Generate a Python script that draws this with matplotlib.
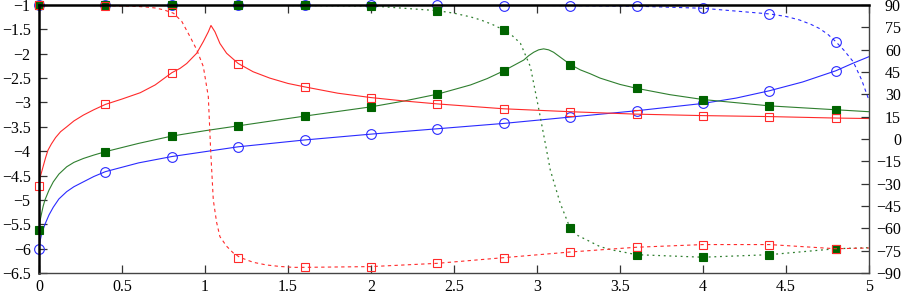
import matplotlib
matplotlib.use("Agg")
import matplotlib.pyplot as plt

plt.rcParams['font.family'] = ['Liberation Serif', 'DejaVu Serif']
plt.rcParams['font.size'] = 11.5

# ---- marker samples (x every 0.4) ----
mx = [0, 0.4, 0.8, 1.2, 1.6, 2.0, 2.4, 2.8, 3.2, 3.6, 4.0, 4.4, 4.8]
red_mag_m = [-4.72, -3.04, -2.39, -2.22, -2.68, -2.90, -3.03, -3.13, -3.19, -3.24, -3.27, -3.29, -3.32]
green_mag_m = [-5.62, -4.01, -3.69, -3.48, -3.28, -3.09, -2.83, -2.35, -2.23, -2.71, -2.94, -3.07, -3.15]
blue_mag_m = [-6.01, -4.42, -4.11, -3.91, -3.77, -3.65, -3.54, -3.43, -3.30, -3.17, -3.02, -2.76, -2.35]
red_ph_m = [90, 89.6, 85.0, -80.0, -86.2, -85.7, -83.5, -79.7, -75.9, -72.7, -70.9, -70.9, -73.7]
green_ph_m = [90, 90, 90, 90, 89.8, 89.4, 86.2, 73.2, -60.0, -77.7, -79.4, -77.7, -73.7]
blue_ph_m = [90, 90, 90, 90, 90, 90, 90, 89.6, 89.6, 89.2, 87.8, 84.0, 65.4]

# ---- curves ----
red_mag_x = [0, 0.008, 0.018, 0.026, 0.04, 0.054, 0.075, 0.1, 0.13, 0.167, 0.21, 0.267, 0.33,
             0.4, 0.5, 0.61, 0.7, 0.8, 0.85, 0.89, 0.95, 0.99, 1.02, 1.036, 1.06, 1.09, 1.13,
             1.2, 1.29, 1.39, 1.5, 1.6, 1.8, 2.0, 2.2, 2.4, 2.8, 3.2, 3.6, 4.0, 4.4, 4.8, 5.0]
red_mag_y = [-4.72, -4.52, -4.40, -4.30, -4.13, -3.98, -3.85, -3.72, -3.60, -3.50, -3.38, -3.26,
             -3.15, -3.04, -2.93, -2.80, -2.64, -2.39, -2.30, -2.20, -1.99, -1.75, -1.55, -1.42,
             -1.55, -1.79, -1.99, -2.20, -2.37, -2.50, -2.61, -2.68, -2.81, -2.90, -2.97, -3.03,
             -3.13, -3.19, -3.24, -3.27, -3.29, -3.32, -3.33]

green_mag_x = [0, 0.008, 0.016, 0.025, 0.036, 0.06, 0.086, 0.12, 0.167, 0.21, 0.267, 0.33, 0.4,
               0.6, 0.8, 1.0, 1.2, 1.6, 2.0, 2.2, 2.4, 2.6, 2.7, 2.8, 2.86, 2.92, 2.95, 2.98,
               3.01, 3.04, 3.07, 3.10, 3.16, 3.2, 3.26, 3.32, 3.38, 3.5, 3.6, 3.8, 4.0, 4.4,
               4.8, 5.0]
green_mag_y = [-5.62, -5.40, -5.27, -5.13, -5.00, -4.80, -4.63, -4.47, -4.32, -4.23, -4.15,
               -4.08, -4.01, -3.84, -3.69, -3.58, -3.48, -3.28, -3.09, -2.97, -2.83, -2.64,
               -2.51, -2.35, -2.24, -2.13, -2.04, -1.97, -1.92, -1.90, -1.92, -1.97, -2.12,
               -2.22, -2.33, -2.41, -2.50, -2.63, -2.71, -2.84, -2.94, -3.07, -3.15, -3.19]

blue_mag_x = [0, 0.008, 0.018, 0.036, 0.06, 0.086, 0.12, 0.167, 0.21, 0.267, 0.33, 0.4, 0.6,
              0.8, 1.2, 1.6, 2.0, 2.4, 2.8, 3.2, 3.6, 4.0, 4.2, 4.4, 4.6, 4.8, 4.9, 5.0]
blue_mag_y = [-6.01, -5.82, -5.67, -5.50, -5.31, -5.15, -4.98, -4.83, -4.73, -4.63, -4.52,
              -4.42, -4.24, -4.11, -3.91, -3.77, -3.65, -3.54, -3.43, -3.30, -3.17, -3.02,
              -2.91, -2.76, -2.58, -2.35, -2.20, -2.06]

red_ph_x = [0, 0.3, 0.57, 0.65, 0.7, 0.75, 0.81, 0.86, 0.91, 0.95, 0.99, 1.02, 1.034, 1.05,
            1.07, 1.09, 1.13, 1.17, 1.21, 1.29, 1.37, 1.45, 1.53, 1.6, 2.0, 2.4, 2.8, 3.2,
            3.6, 4.0, 4.4, 4.8, 5.0]
red_ph_y = [90, 89.7, 89.2, 88.6, 88.0, 86.8, 84.5, 79.0, 68.7, 60.0, 48.6, 28.4, -7.4, -41.0,
            -56.0, -65.6, -72.0, -76.5, -79.5, -82.8, -84.6, -85.6, -86.2, -86.2, -85.7,
            -83.5, -79.7, -75.9, -72.7, -70.9, -70.9, -73.7, -73.2]

green_ph_x = [0, 1.0, 2.0, 2.4, 2.5, 2.6, 2.66, 2.73, 2.8, 2.85, 2.90, 2.96, 3.0, 3.05, 3.08,
              3.14, 3.2, 3.24, 3.30, 3.38, 3.45, 3.5, 3.6, 4.0, 4.4, 4.8, 5.0]
green_ph_y = [90, 90, 89.4, 86.2, 84.5, 82.0, 80.0, 77.0, 73.2, 69.5, 64.3, 48.6, 26.2, -2.9,
              -20.8, -43.2, -60.0, -64.5, -67.8, -72.3, -74.5, -75.5, -77.7, -79.4, -77.7,
              -73.7, -73.0]

blue_ph_x = [0, 2.0, 2.4, 2.8, 3.2, 3.6, 4.0, 4.4, 4.5, 4.58, 4.65, 4.70, 4.75, 4.8, 4.85,
             4.905, 4.956, 5.0]
blue_ph_y = [90, 90, 90, 89.8, 89.6, 89.2, 87.8, 84.0, 82.3, 80.0, 77.0, 74.3, 70.5, 65.4,
             59.5, 51.9, 39.6, 26.0]

# ---- ticks ----
x_ticks = [0, 0.5, 1, 1.5, 2, 2.5, 3, 3.5, 4, 4.5, 5]
x_labels = ['0', '0.5', '1', '1.5', '2', '2.5', '3', '3.5', '4', '4.5', '5']
yl_ticks = [-1, -1.5, -2, -2.5, -3, -3.5, -4, -4.5, -5, -5.5, -6, -6.5]
yl_labels = ['\u22121', '\u22121.5', '\u22122', '\u22122.5', '\u22123', '\u22123.5', '\u22124',
             '\u22124.5', '\u22125', '\u22125.5', '\u22126', '\u22126.5']
yr_ticks = [90, 75, 60, 45, 30, 15, 0, -15, -30, -45, -60, -75, -90]
yr_labels = ['90', '75', '60', '45', '30', '15', '0', '\u221215', '\u221230', '\u221245',
             '\u221260', '\u221275', '\u221290']

RED = '#ff2a2a'
GREEN = '#006400'
GREEN_L = '#2f7f2f'
BLUE = '#2a2aff'

fig = plt.figure(figsize=(9.04, 2.96), dpi=100)
ax = fig.add_axes([39 / 904, 1 - 273 / 296, (869 - 39) / 904, (273 - 5) / 296])
ax2 = ax.twinx()

ms_sq = 6.0
ms_c = 7.0
mew = 0.8

# magnitudes (left axis)
ax.plot(blue_mag_x, blue_mag_y, color=BLUE, lw=0.8)
ax.plot(mx, blue_mag_m, ls='none', marker='o', ms=ms_c, mfc='none', mec=BLUE, mew=mew, clip_on=False)
ax.plot(green_mag_x, green_mag_y, color=GREEN_L, lw=0.8)
ax.plot(mx, green_mag_m, ls='none', marker='s', ms=ms_sq, mfc=GREEN, mec=GREEN, mew=mew, clip_on=False)
ax.plot(red_mag_x, red_mag_y, color=RED, lw=0.8)
ax.plot(mx, red_mag_m, ls='none', marker='s', ms=ms_sq, mfc='none', mec=RED, mew=mew, clip_on=False)

# phases (right axis)
ax2.plot(blue_ph_x, blue_ph_y, color=BLUE, lw=0.8, ls=(0, (3, 3)))
ax2.plot(mx, blue_ph_m, ls='none', marker='o', ms=ms_c, mfc='none', mec=BLUE, mew=mew, clip_on=False)
ax2.plot(green_ph_x, green_ph_y, color=GREEN_L, lw=0.9, ls=(0, (1.5, 3)))
ax2.plot(mx, green_ph_m, ls='none', marker='s', ms=ms_sq, mfc=GREEN, mec=GREEN, mew=mew, clip_on=False)
ax2.plot(red_ph_x, red_ph_y, color=RED, lw=0.8, ls=(0, (3, 3)))
ax2.plot(mx, red_ph_m, ls='none', marker='s', ms=ms_sq, mfc='none', mec=RED, mew=mew, clip_on=False)

ax.set_xlim(0, 5)
ax.set_ylim(-6.5, -1)
ax2.set_ylim(-90, 90)

ax.set_xticks(x_ticks)
ax.set_xticklabels(x_labels)
ax.set_yticks(yl_ticks)
ax.set_yticklabels(yl_labels)
ax2.set_yticks(yr_ticks)
ax2.set_yticklabels(yr_labels)

ax.tick_params(axis='x', direction='in', length=6, width=0.9, top=True, bottom=True, pad=4.5,
               color='#333333')
ax.tick_params(axis='y', direction='in', length=6, width=0.9, left=True, right=False, pad=6,
               color='#333333')
ax2.tick_params(axis='y', direction='in', length=6, width=0.9, right=True, left=False, pad=23,
                color='#333333')
for lab in ax2.get_yticklabels():
    lab.set_horizontalalignment('right')

for s in ax.spines.values():
    s.set_visible(False)
ax2.spines['top'].set_linewidth(1.8)
ax2.spines['top'].set_color('black')
ax2.spines['left'].set_linewidth(1.8)
ax2.spines['left'].set_color('black')
ax2.spines['bottom'].set_linewidth(1.0)
ax2.spines['bottom'].set_color('#444444')
ax2.spines['right'].set_linewidth(1.0)
ax2.spines['right'].set_color('#444444')

fig.savefig('out.png', dpi=100)
